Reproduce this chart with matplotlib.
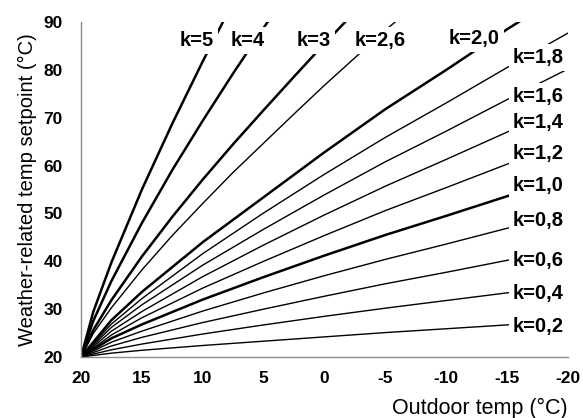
import numpy as np
import matplotlib.pyplot as plt

plt.rcParams['font.family'] = ['Liberation Sans', 'DejaVu Sans']
plt.rcParams['axes.unicode_minus'] = False

# outdoor temperature grids the curves were read at
outdoor = [20, 17.5, 15, 10, 5, 0, -5, -10, -15, -20]
outdoor_fine = [20, 19, 17.5, 15, 12.5, 10, 7.5, 5, 2.5, 0, -5, -10]

# setpoint (values above 90 are clipped by the axes)
flat_curves = {
    "k=0,2": [20, 20.8, 21.4, 22.4, 23.3, 24.2, 25.1, 25.9, 26.7, 27.5],
    "k=0,4": [20, 21.5, 22.7, 24.8, 26.7, 28.5, 30.2, 31.8, 33.4, 35.0],
    "k=0,6": [20, 22.3, 24.1, 27.2, 30.0, 32.7, 35.3, 37.7, 40.2, 42.6],
    "k=0,8": [20, 23.1, 25.4, 29.6, 33.4, 37.0, 40.4, 43.6, 46.9, 50.1],
    "k=1,0": [20, 23.9, 26.8, 32.0, 36.7, 41.2, 45.5, 49.5, 53.6, 57.6],
    "k=1,2": [20, 24.6, 28.2, 34.4, 40.0, 45.4, 50.6, 55.4, 60.3, 65.1],
    "k=1,4": [20, 25.4, 29.5, 36.8, 43.4, 49.7, 55.7, 61.3, 67.0, 72.6],
    "k=1,6": [20, 26.2, 30.9, 39.2, 46.7, 53.9, 60.8, 67.2, 73.8, 80.2],
    "k=1,8": [20, 26.9, 32.2, 41.6, 50.1, 58.2, 65.9, 73.1, 80.5, 87.7],
    "k=2,0": [20, 27.7, 33.6, 44.0, 53.4, 62.8, 71.8, 80.0, 88.5, 96.5],
}
steep_curves = {
    "k=2,6": [20, 24.9, 30.3, 38.2, 45.4, 52.1, 58.6, 64.7, 70.8, 76.8, 88.3, 99.0],
    "k=3": [20, 25.6, 31.9, 41.0, 49.3, 57.1, 64.5, 71.6, 78.6, 85.5, 98.8],
    "k=4": [20, 27.5, 35.9, 48.0, 59.1, 69.4, 79.3, 88.8, 98.2],
    "k=5": [20, 29.4, 39.8, 55.0, 68.8, 81.8, 94.2],
}
thick = ["k=5", "k=4", "k=3", "k=2,0", "k=1,0"]

# label anchor points (outdoor temp, setpoint)
top_labels = {"k=5": (10.5, 86.2), "k=4": (6.3, 86.2), "k=3": (0.9, 86.2),
              "k=2,6": (-4.6, 86.2), "k=2,0": (-12.3, 86.6)}
right_labels = {"k=1,8": 82.6, "k=1,6": 74.5, "k=1,4": 69.0, "k=1,2": 62.6,
                "k=1,0": 55.8, "k=0,8": 48.5, "k=0,6": 40.1, "k=0,4": 33.2,
                "k=0,2": 26.3}

fig = plt.figure(figsize=(5.83, 4.18), dpi=100)
ax = fig.add_axes([0.139, 0.146, 0.835, 0.801])

for name, vals in flat_curves.items():
    lw = 1.8 if name in thick else 1.0
    ax.plot(outdoor[:len(vals)], vals, color='black', lw=lw)
for name, vals in steep_curves.items():
    lw = 1.8 if name in thick else 1.0
    ax.plot(outdoor_fine[:len(vals)], vals, color='black', lw=lw)

box = dict(facecolor='white', edgecolor='none', boxstyle='square,pad=0.2')
for name, (x, y) in top_labels.items():
    ax.text(x, y, name, ha='center', va='center', fontsize=14.5,
            fontweight='bold', bbox=box, zorder=5)
for name, y in right_labels.items():
    ax.text(-15.5, y, name, ha='left', va='center', fontsize=14.5,
            fontweight='bold', bbox=box, zorder=5, clip_on=False)

ax.set_xlim(20, -20)
ax.set_ylim(20, 90)
ax.set_xticks(np.arange(20, -21, -5))
ax.set_yticks(np.arange(20, 91, 10))
ax.tick_params(length=0, labelsize=12.5)
ax.tick_params(axis='y', pad=13)
ax.tick_params(axis='x', pad=10)
for lab in ax.get_xticklabels() + ax.get_yticklabels():
    lab.set_fontweight('bold')

for s in ['top', 'right']:
    ax.spines[s].set_visible(False)
for s in ['left', 'bottom']:
    ax.spines[s].set_color('#8c8c8c')
    ax.spines[s].set_linewidth(1.0)

ax.set_xlabel('Outdoor temp (°C)', fontsize=15.5, loc='right', labelpad=9)
ax.set_ylabel('Weather-related temp setpoint (°C)', fontsize=14.5, labelpad=5)

fig.savefig('out.png', dpi=100)
